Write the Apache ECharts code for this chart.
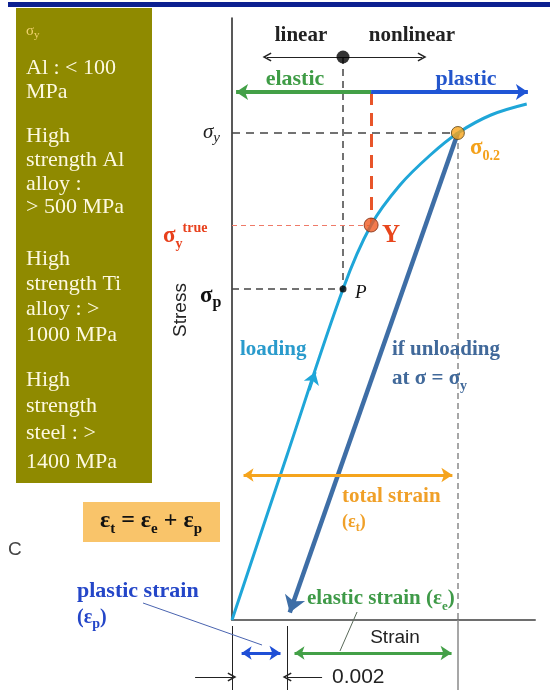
<!DOCTYPE html>
<html>
<head>
<meta charset="utf-8">
<script src="https://cdn.jsdelivr.net/npm/echarts@6/dist/echarts.min.js"></script>
<style>
html, body { margin: 0; padding: 0; background: #ffffff; }
#c { width: 550px; height: 690px; }
</style>
</head>
<body>
<div id="c"></div>
<script>
// Engineering stress–strain curve: loading path (strain, stress)
const loadStrain = [0, 0.002, 0.00403, 0.00505, 0.0061, 0.0072, 0.0082, 0.0094, 0.0107];
const loadStress = [0, 165, 331, 395, 435, 465, 487, 505, 516];

// Key points on the curve: proportional limit P, true yield Y, 0.2 % offset yield
const pointNames = ['P', 'Y', 'σ0.2'];
const pointStrain = [0.00403, 0.00505, 0.0082];
const pointStress = [331, 395, 487];

// Offset used for the proof stress
const offsetStrain = 0.002;

// Axis ranges
const strainRange = [0, 0.011];
const stressRange = [0, 602];

// Annotation rows (stress level of each arrow row)
const rowLinear = 563;
const rowRegime = 528;
const rowTotal = 145;
const rowParts = -33;
const rowOffset = -57;
const extTop = -6, extBottom = -70;

// Yield strength of typical materials (side panel)
const panelLines = [
  ['Al : < 100', 68], ['MPa', 92],
  ['High', 136], ['strength Al', 160], ['alloy :', 184], ['> 500 MPa', 207],
  ['High', 259], ['strength Ti', 284], ['alloy : >', 309], ['1000 MPa', 335],
  ['High', 380], ['strength', 406], ['steel : >', 433], ['1400 MPa', 462]
];

const GRID = { left: 232, top: 18, width: 303, height: 602 };
const SX = GRID.width / (strainRange[1] - strainRange[0]);
const SY = GRID.height / (stressRange[1] - stressRange[0]);

const SERIF = "'Liberation Serif', 'Times New Roman', serif";
const SANS = "'Liberation Sans', Arial, sans-serif";

// Pull point b back towards a by px screen pixels (so an arrow tip lands on b)
function inset(a, b, px) {
  const dx = (b[0] - a[0]) * SX, dy = (b[1] - a[1]) * SY;
  const t = px / Math.hypot(dx, dy);
  return [b[0] - (b[0] - a[0]) * t, b[1] - (b[1] - a[1]) * t];
}
function single(a, tip, head) { return [a, inset(a, tip, head / 2)]; }
function double(a, b, head) { return [inset(b, a, head / 2), inset(a, b, head / 2)]; }

const E = pointStress[0] / pointStrain[0];
const P = [pointStrain[0], pointStress[0]];
const Y = [pointStrain[1], pointStress[1]];
const S02 = [pointStrain[2], pointStress[2]];

// Plain and rich text helpers for the graphic layer
function txt(x, y, str, o) {
  o = o || {};
  const size = o.size || 20;
  const font = `${o.style || 'normal'} ${o.weight || 'normal'} ${size}px ${o.family || SERIF}`;
  return {
    type: 'text', x: x, y: y, z: 100, rotation: o.rotation || 0,
    style: {
      text: str, font: font, fill: o.color || '#222',
      align: o.align || 'left', textAlign: o.align || 'left',
      verticalAlign: 'middle', textVerticalAlign: 'middle'
    }
  };
}
function rich(x, y, parts, o) {
  const size = o.size, sub = o.sub, lh = o.lh || Math.round(size * 1.4);
  const common = {
    fontFamily: o.family || SERIF, fontWeight: o.weight || 'normal',
    fontStyle: o.style || 'normal', fill: o.color, color: o.color
  };
  const r = {
    m: Object.assign({}, common, { fontSize: size, lineHeight: lh, verticalAlign: 'middle' }),
    s: Object.assign({}, common, { fontSize: sub, lineHeight: sub, verticalAlign: 'bottom' }),
    u: Object.assign({}, common, { fontSize: sub, lineHeight: sub, verticalAlign: 'top' })
  };
  return {
    type: 'text', x: x, y: y, z: 100,
    style: {
      text: parts.map(p => `{${p[1]}|${p[0]}}`).join(''), rich: r,
      fill: o.color, font: `${size}px ${common.fontFamily}`,
      align: o.align || 'left', textAlign: o.align || 'left',
      verticalAlign: 'middle', textVerticalAlign: 'middle'
    }
  };
}

// Dashed guides, extension and leader lines
const guides = [
  { c: [[0, S02[1]], S02], s: { color: '#444', width: 1.5, type: [8, 6] } },
  { c: [[P[0], rowLinear], P], s: { color: '#444', width: 1.5, type: [7, 5] } },
  { c: [[0, P[1]], P], s: { color: '#444', width: 1.5, type: [7, 5] } },
  { c: [[0, Y[1]], Y], s: { color: '#ef7a68', width: 1.2, type: [5, 4] } },
  { c: [[Y[0], rowRegime], Y], s: { color: '#e8552a', width: 3, type: [13, 8] } },
  { c: [S02, [S02[0], 0]], s: { color: '#8a8a8a', width: 1.5, type: [6, 4] } },
  { c: [[S02[0], 0], [S02[0], extBottom]], s: { color: '#8a8a8a', width: 1.5, type: 'solid' } },
  { c: [[0, extTop], [0, extBottom]], s: { color: '#222', width: 1, type: 'solid' } },
  { c: [[offsetStrain, extTop], [offsetStrain, extBottom]], s: { color: '#222', width: 1, type: 'solid' } },
  { c: [[-0.00323, 17], [0.00109, -25]], s: { color: '#4a64b0', width: 1, type: 'solid' } },
  { c: [[0.00454, 8], [0.00392, -31]], s: { color: '#5a6a5a', width: 1, type: 'solid' } }
];

const headFilled = 12;
const singleArrows = [
  { c: single([Y[0], rowRegime], [-0.00007, rowRegime], headFilled), s: { color: '#43a047', width: 4 } },
  { c: single([Y[0], rowRegime], [0.01096, rowRegime], headFilled), s: { color: '#1f55d6', width: 4 } },
  { c: [[0.0028, 0.0028 * E], [0.00302, 0.00302 * E]], s: { color: '#1fa6d8', width: 3 } }
];
const doubleArrows = [
  { c: double([0.00022, rowTotal], [S02[0], rowTotal], 11), s: { color: '#f5a41d', width: 3 } },
  { c: double([0.00015, rowParts], [0.00196, rowParts], 11), s: { color: '#1f4fd6', width: 3 } },
  { c: double([0.00207, rowParts], [0.00817, rowParts], 11), s: { color: '#43a047', width: 3 } }
];
const openArrows = [
  { c: single([P[0], rowLinear], [0.00127, rowLinear], 0), s: { color: '#222', width: 1 } },
  { c: single([P[0], rowLinear], [0.0069, rowLinear], 0), s: { color: '#222', width: 1 } },
  { c: single([-0.00134, rowOffset], [0, rowOffset], 0), s: { color: '#222', width: 1.2 } },
  { c: single([0.00327, rowOffset], [offsetStrain, rowOffset], 0), s: { color: '#222', width: 1.2 } }
];
const unloadSeg = single(S02, [offsetStrain, 0], 16);

const chevron = 'path://M5,0 L10,9 L8.6,9.8 L5,3.4 L1.4,9.8 L0,9 Z';

function linesSeries(name, items, symbol, size, z) {
  return {
    type: 'lines', name: name, coordinateSystem: 'cartesian2d', clip: false, silent: true,
    polyline: false, symbol: symbol, symbolSize: size, z: z,
    data: items.map(it => ({ coords: it.c, lineStyle: it.s })),
    lineStyle: { opacity: 1 }
  };
}

const markerStyle = [
  { color: '#000000' },
  { color: '#f05a22', borderColor: '#7a2a10', borderWidth: 1 },
  { color: '#f8a51c', borderColor: '#5a4010', borderWidth: 1 }
];
const markerSize = [7, 14, 13];

const option = {
  animation: false,
  backgroundColor: '#ffffff',
  grid: Object.assign({ containLabel: false }, GRID),
  xAxis: {
    type: 'value', min: strainRange[0], max: strainRange[1],
    axisLine: { show: true, onZero: false, lineStyle: { color: '#6e6e6e', width: 2 } },
    axisTick: { show: false }, axisLabel: { show: false }, splitLine: { show: false }
  },
  yAxis: {
    type: 'value', min: stressRange[0], max: stressRange[1],
    axisLine: { show: true, onZero: false, lineStyle: { color: '#222', width: 1.5 } },
    axisTick: { show: false }, axisLabel: { show: false }, splitLine: { show: false }
  },
  series: [
    linesSeries('guides', guides, 'none', 0, 2),
    {
      type: 'line', name: 'loading', z: 5, smooth: 0.35, showSymbol: false, silent: true,
      data: loadStrain.map((s, i) => [s, loadStress[i]]),
      lineStyle: { color: '#1fa6d8', width: 3 }
    },
    linesSeries('unloading', [{ c: unloadSeg, s: { color: '#3e6ea6', width: 4.5 } }], ['none', 'arrow'], [13, 16], 4),
    linesSeries('arrows', singleArrows, ['none', 'arrow'], [10, headFilled], 6),
    linesSeries('double arrows', doubleArrows, ['arrow', 'arrow'], [10, 11], 6),
    linesSeries('open arrows', openArrows, ['none', chevron], [10, 9], 6),
    {
      type: 'scatter', name: 'points', z: 10, silent: true, clip: false,
      data: pointStrain.map((s, i) => ({
        name: pointNames[i], value: [s, pointStress[i]],
        symbolSize: markerSize[i], itemStyle: markerStyle[i]
      })).concat([{ name: 'limit', value: [P[0], rowLinear], symbolSize: 13, itemStyle: { color: '#000' } }])
    }
  ],
  graphic: {
    elements: [
      { type: 'rect', z: 1, shape: { x: 8, y: 2, width: 542, height: 5 }, style: { fill: '#0c2090' } },
      { type: 'rect', z: 1, shape: { x: 16, y: 8, width: 136, height: 475 }, style: { fill: '#8f8a00' } },
      { type: 'rect', z: 1, shape: { x: 83, y: 502, width: 137, height: 40 }, style: { fill: '#f9c46a' } },
      rich(26, 31, [['σ', 'm'], ['y', 's']], { size: 15, sub: 11, color: '#f2d36e', lh: 20 }),
      ...panelLines.map(l => txt(26, l[1], l[0], { size: 22, color: '#fdf9e0' })),

      txt(301, 36, 'linear', { size: 21, weight: 'bold', color: '#222', align: 'center' }),
      txt(412, 36, 'nonlinear', { size: 21, weight: 'bold', color: '#222', align: 'center' }),
      txt(295, 79, 'elastic', { size: 22, weight: 'bold', color: '#3f9c46', align: 'center' }),
      txt(466, 79, 'plastic', { size: 22, weight: 'bold', color: '#2456cc', align: 'center' }),

      rich(203, 132, [['σ', 'm'], ['y', 's']], { size: 21, sub: 15, style: 'italic', color: '#222', lh: 28 }),
      rich(470, 148, [['σ', 'm'], ['0.2', 's']], { size: 23, sub: 14, weight: 'bold', color: '#f4a11a', lh: 30 }),
      txt(391, 236, 'Y', { size: 25, weight: 'bold', color: '#e8461c', align: 'center' }),
      rich(163, 236, [['σ', 'm'], ['y', 's'], ['true', 'u']], { size: 23, sub: 14, weight: 'bold', color: '#e8401c', lh: 30 }),
      rich(200, 296, [['σ', 'm'], ['p', 's']], { size: 23, sub: 16, weight: 'bold', color: '#111', lh: 30 }),
      txt(355, 293, 'P', { size: 19, style: 'italic', color: '#111' }),
      txt(181, 310, 'Stress', { size: 19, family: SANS, color: '#222', align: 'center', rotation: Math.PI / 2 }),

      txt(240, 350, 'loading', { size: 21, weight: 'bold', color: '#2a9bcc' }),
      txt(392, 350, 'if unloading', { size: 21, weight: 'bold', color: '#41699a' }),
      rich(392, 379, [['at σ = σ', 'm'], ['y', 's']], { size: 21, sub: 14, weight: 'bold', color: '#41699a', lh: 28 }),

      txt(342, 497, 'total strain', { size: 21, weight: 'bold', color: '#f0a028' }),
      rich(342, 522, [['(ε', 'm'], ['t', 's'], [')', 'm']], { size: 18, sub: 12, weight: 'bold', color: '#f0a028', lh: 24 }),

      rich(151, 521, [['ε', 'm'], ['t', 's'], [' = ε', 'm'], ['e', 's'], [' + ε', 'm'], ['p', 's']],
        { size: 24, sub: 15, weight: 'bold', color: '#111', lh: 32, align: 'center' }),
      txt(8, 550, 'C', { size: 19, family: SANS, color: '#444' }),

      txt(77, 591, 'plastic strain', { size: 22, weight: 'bold', color: '#2446c8' }),
      rich(77, 618, [['(ε', 'm'], ['p', 's'], [')', 'm']], { size: 20, sub: 14, weight: 'bold', color: '#2446c8', lh: 26 }),
      rich(307, 599, [['elastic strain (ε', 'm'], ['e', 's'], [')', 'm']], { size: 21, sub: 13, weight: 'bold', color: '#3f9a48', lh: 28 }),
      txt(395, 638, 'Strain', { size: 19, family: SANS, color: '#222', align: 'center' }),
      txt(332, 677, '0.002', { size: 21, family: SANS, color: '#222' })
    ]
  }
};

const chart = echarts.init(document.getElementById('c'), null, { renderer: 'canvas', width: 550, height: 690 });
chart.setOption(option);
</script>
</body>
</html>
